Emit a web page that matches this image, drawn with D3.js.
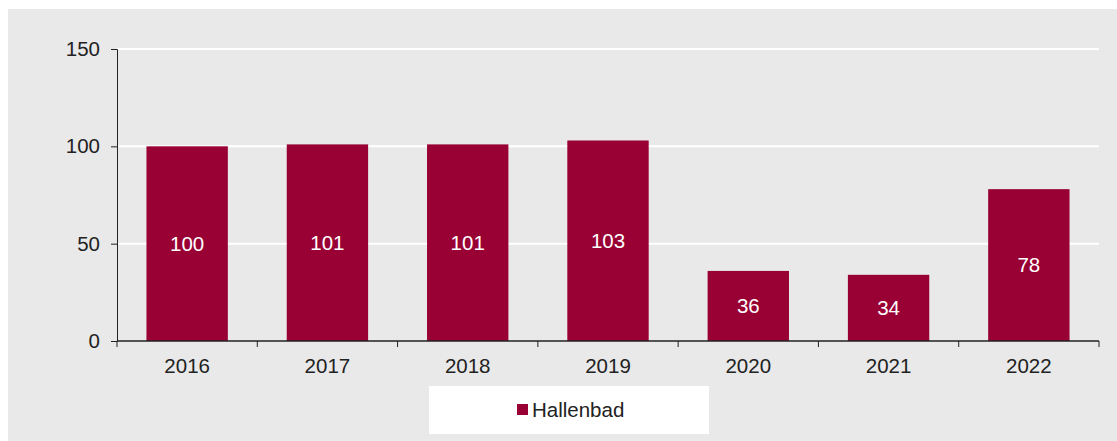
<!DOCTYPE html>
<html>
<head>
<meta charset="utf-8">
<script src="https://cdn.jsdelivr.net/npm/d3@7"></script>
<style>
  body { margin: 0; background: #fff; }
  text { font-family: Arial, "Liberation Sans", sans-serif; }
</style>
</head>
<body>
<div id="chart"></div>
<script>
const years = ['2016', '2017', '2018', '2019', '2020', '2021', '2022']
const values = [100, 101, 101, 103, 36, 34, 78]
const yTicks = [0, 50, 100, 150]
const seriesName = 'Hallenbad'

const barColor = '#990033'
const width = 1117
const height = 441
const fontSize = '20.5px'

const svg = d3.select('#chart')
  .append('svg')
  .attr('width', width)
  .attr('height', height)

// grey panel
svg.append('rect')
  .attr('x', 8)
  .attr('y', 9)
  .attr('width', width - 8)
  .attr('height', height - 9)
  .attr('fill', '#e9e9e9')

const plotLeft = 117
const plotRight = 1099
const plotTop = 49
const plotBottom = 341

const x = d3.scaleBand()
  .domain(years)
  .range([plotLeft, plotRight])
  .paddingInner(0.42)
  .paddingOuter(0.21)

const y = d3.scaleLinear()
  .domain([0, 150])
  .range([plotBottom, plotTop])

// gridlines
svg.append('g')
  .selectAll('line')
  .data(yTicks.filter(d => d > 0))
  .enter()
  .append('line')
  .attr('x1', plotLeft)
  .attr('x2', plotRight)
  .attr('y1', d => y(d))
  .attr('y2', d => y(d))
  .style('stroke', '#fff')
  .style('stroke-width', 2)

// bars
svg.append('g')
  .selectAll('rect')
  .data(values)
  .enter()
  .append('rect')
  .attr('x', (d, i) => x(years[i]))
  .attr('y', d => y(d))
  .attr('width', x.bandwidth())
  .attr('height', d => y(0) - y(d))
  .attr('fill', barColor)

// value labels in the middle of each bar
svg.append('g')
  .selectAll('text')
  .data(values)
  .enter()
  .append('text')
  .attr('x', (d, i) => x(years[i]) + x.bandwidth() / 2)
  .attr('y', d => (y(d) + y(0)) / 2)
  .attr('dy', '0.35em')
  .attr('text-anchor', 'middle')
  .style('font-size', fontSize)
  .style('fill', '#fff')
  .text(d => d)

// y axis
const yAxis = svg.append('g')
  .attr('transform', `translate(${plotLeft},0)`)
  .call(d3.axisLeft(y).tickValues(yTicks).tickSize(6).tickPadding(11))
yAxis.select('.domain').attr('stroke', '#222')
yAxis.selectAll('.tick line').attr('stroke', '#222')
yAxis.selectAll('.tick text')
  .style('font-size', fontSize)
  .style('fill', '#222')

// x axis with ticks on band boundaries
svg.append('line')
  .attr('x1', plotLeft)
  .attr('x2', plotRight)
  .attr('y1', y(0))
  .attr('y2', y(0))
  .style('stroke', '#222')
  .style('stroke-width', 1.3)

const bounds = years.map(d => x(d) - x.step() * x.paddingInner() / 2)
bounds[0] = plotLeft
bounds.push(plotRight)
svg.append('g')
  .selectAll('line')
  .data(bounds)
  .enter()
  .append('line')
  .attr('x1', d => d)
  .attr('x2', d => d)
  .attr('y1', y(0))
  .attr('y2', y(0) + 6)
  .style('stroke', '#222')

svg.append('g')
  .selectAll('text')
  .data(years)
  .enter()
  .append('text')
  .attr('x', d => x(d) + x.bandwidth() / 2)
  .attr('y', y(0) + 32)
  .attr('text-anchor', 'middle')
  .style('font-size', fontSize)
  .style('fill', '#222')
  .text(d => d)

// legend
const legend = svg.append('g')
legend.append('rect')
  .attr('x', 429)
  .attr('y', 386)
  .attr('width', 280)
  .attr('height', 48)
  .attr('fill', '#fff')
legend.append('rect')
  .attr('x', 517)
  .attr('y', 404)
  .attr('width', 11)
  .attr('height', 11)
  .attr('fill', barColor)
legend.append('text')
  .attr('x', 532)
  .attr('y', 410)
  .attr('dy', '0.35em')
  .style('font-size', fontSize)
  .style('fill', '#222')
  .text(seriesName)
</script>
</body>
</html>
